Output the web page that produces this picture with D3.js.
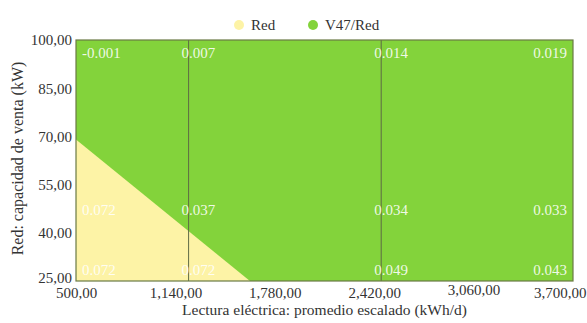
<!DOCTYPE html>
<html>
<head>
<meta charset="utf-8">
<script src="https://cdn.jsdelivr.net/npm/d3@7"></script>
<style>
  html, body { margin: 0; padding: 0; background: #fff; }
  svg { display: block; font-family: "Liberation Serif", "Times New Roman", serif; }
</style>
</head>
<body>
<svg id="chart" width="587" height="323"></svg>
<script>
// Axis ticks
const xTicks = [500, 1140, 1780, 2420, 3060, 3700];
const yTicks = [25, 40, 55, 70, 85, 100];

// Legend entries
const legendNames = ["Red", "V47/Red"];
const legendColors = ["#fdf3a6", "#83d33b"];

// Region where "Red" is preferred (polygon in data units); the rest is "V47/Red"
const redRegion = [[500, 25], [500, 69], [1620, 25]];

// Vertical dividers between evaluation columns
const dividers = [1225, 2465];

// Value grid: columns (x) and rows (y)
const labelCols = [500, 1140, 2420, 3700];
const labelRows = [100, 47, 25];
const labelValues = [
  ["-0.001", "0.007", "0.014", "0.019"],
  ["0.072", "0.037", "0.034", "0.033"],
  ["0.072", "0.072", "0.049", "0.043"]
];

const svg = d3.select("#chart");
const m = { left: 76, right: 14, top: 40, bottom: 42 };
const W = 587, H = 323;
const FONT = "Liberation Serif, Times New Roman, serif";

const x = d3.scaleLinear().domain([500, 3700]).range([m.left, W - m.right]);
const y = d3.scaleLinear().domain([25, 100]).range([H - m.bottom, m.top]);

// Background region (V47/Red)
svg.append("rect")
  .attr("x", x(500)).attr("y", y(100))
  .attr("width", x(3700) - x(500)).attr("height", y(25) - y(100))
  .attr("fill", legendColors[1]);

// Red region
svg.append("path")
  .attr("d", d3.line().x(d => x(d[0])).y(d => y(d[1]))(redRegion) + "Z")
  .attr("fill", legendColors[0]);

// Dividers
svg.selectAll("line.div").data(dividers).join("line")
  .attr("class", "div")
  .attr("x1", d => x(d)).attr("x2", d => x(d))
  .attr("y1", y(100)).attr("y2", y(25))
  .attr("stroke", "#5e6b45").attr("stroke-width", 1);

// Plot frame
svg.append("rect")
  .attr("x", x(500)).attr("y", y(100))
  .attr("width", x(3700) - x(500)).attr("height", y(25) - y(100))
  .attr("fill", "none").attr("stroke", "#6a7a45").attr("stroke-width", 1.2);

// Value labels
const colAnchor = ["start", "start", "start", "end"];
const colDx = [6, 6, 0, -6];
const rowDy = [18, 5, -6];
labelRows.forEach((ry, ri) => {
  labelCols.forEach((cx, ci) => {
    svg.append("text")
      .attr("x", x(cx) + colDx[ci])
      .attr("y", y(ry) + rowDy[ri])
      .attr("text-anchor", colAnchor[ci])
      .attr("font-size", 15)
      .attr("fill", "#ffffff")
      .attr("fill-opacity", 0.88)
      .text(labelValues[ri][ci]);
  });
});

// Axes
const xAxis = d3.axisBottom(x).tickValues(xTicks)
  .tickFormat(d => d3.format(",")(d) + ",00").tickSize(0).tickPadding(6);
const gx = svg.append("g").attr("transform", `translate(0,${y(25)})`).call(xAxis);
gx.select(".domain").remove();
gx.selectAll("text").attr("font-size", 15).attr("fill", "#333").attr("font-family", FONT);
gx.selectAll(".tick").filter(d => d === 3700).select("text")
  .attr("text-anchor", "end").attr("dx", 13);
gx.selectAll(".tick").filter(d => d === 3060).select("text").attr("dy", "0.5em");

const yAxis = d3.axisLeft(y).tickValues(yTicks)
  .tickFormat(d => d + ",00").tickSize(0).tickPadding(4);
const gy = svg.append("g").attr("transform", `translate(${x(500)},0)`).call(yAxis);
gy.select(".domain").remove();
gy.selectAll("text").attr("font-size", 15).attr("fill", "#333").attr("font-family", FONT);
gy.selectAll(".tick").filter(d => d === 25).select("text").attr("dy", "0.1em");

// Axis titles
svg.append("text")
  .attr("x", (x(500) + x(3700)) / 2).attr("y", 315)
  .attr("text-anchor", "middle").attr("font-size", 15.5).attr("fill", "#333")
  .text("Lectura eléctrica: promedio escalado (kWh/d)");
svg.append("text")
  .attr("transform", `translate(23,${(y(25) + y(100)) / 2 - 2}) rotate(-90)`)
  .attr("text-anchor", "middle").attr("font-size", 16).attr("fill", "#333")
  .text("Red: capacidad de venta (kW)");

// Legend
const legendX = [239, 313];
const lg = svg.selectAll("g.leg").data(legendNames).join("g")
  .attr("class", "leg")
  .attr("transform", (d, i) => `translate(${legendX[i]},25)`);
lg.append("circle").attr("r", 5).attr("fill", (d, i) => legendColors[i]);
lg.append("text").attr("x", 12).attr("y", 5)
  .attr("font-size", 15).attr("fill", "#333").text(d => d);
</script>
</body>
</html>
